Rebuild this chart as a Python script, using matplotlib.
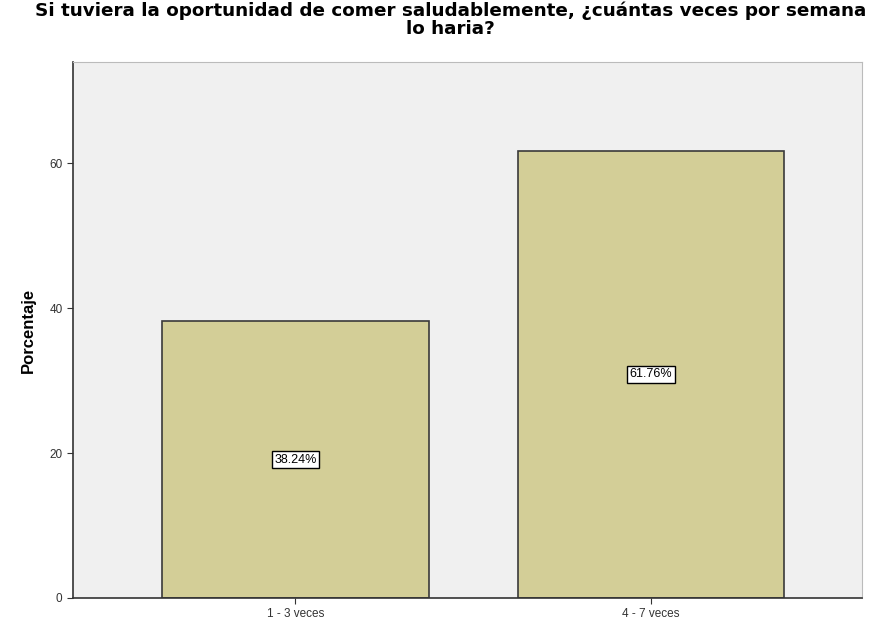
import matplotlib.pyplot as plt

plt.rcParams["font.family"] = ["Liberation Sans", "DejaVu Sans"]

# Data
categories = ["1 - 3 veces", "4 - 7 veces"]
percentages = [38.24, 61.76]
bar_labels = ["38.24%", "61.76%"]
y_ticks = [0, 20, 40, 60]

fig = plt.figure(figsize=(8.71, 6.25), dpi=100)
ax = fig.add_axes([0.0838, 0.0432, 0.9059, 0.8576])
ax.set_facecolor("#F0F0F0")

x = list(range(len(categories)))
bars = ax.bar(x, percentages, width=0.75, color="#D3CE97",
              edgecolor="#3a3a3a", linewidth=1.2)

# Value labels in boxes at the middle of each bar
for xi, val, lab in zip(x, percentages, bar_labels):
    ax.text(xi, val / 2, lab, ha="center", va="center", fontsize=9,
            bbox=dict(boxstyle="square,pad=0.2", facecolor="white",
                      edgecolor="black", linewidth=1))

ax.set_xlim(-0.626, 1.594)
ax.set_ylim(0, 74)
ax.set_xticks(x)
ax.set_xticklabels(categories, fontsize=8.5, color="#333333")
ax.set_yticks(y_ticks)
ax.set_yticklabels([str(t) for t in y_ticks], fontsize=8.5, color="#333333")
ax.tick_params(direction="out", length=4, color="#333333")

for side in ["top", "right"]:
    ax.spines[side].set_color("#bbbbbb")
    ax.spines[side].set_linewidth(0.8)
for side in ["left", "bottom"]:
    ax.spines[side].set_color("#333333")
    ax.spines[side].set_linewidth(1.2)

ax.set_ylabel("Porcentaje", fontsize=12, fontweight="bold", labelpad=10)
fig.suptitle("Si tuviera la oportunidad de comer saludablemente, ¿cuántas veces por semana\nlo haria?",
             family="DejaVu Sans", fontsize=13.2, fontweight="bold",
             x=0.517, y=0.998, linespacing=1.05)

fig.savefig("out.png", dpi=100)
